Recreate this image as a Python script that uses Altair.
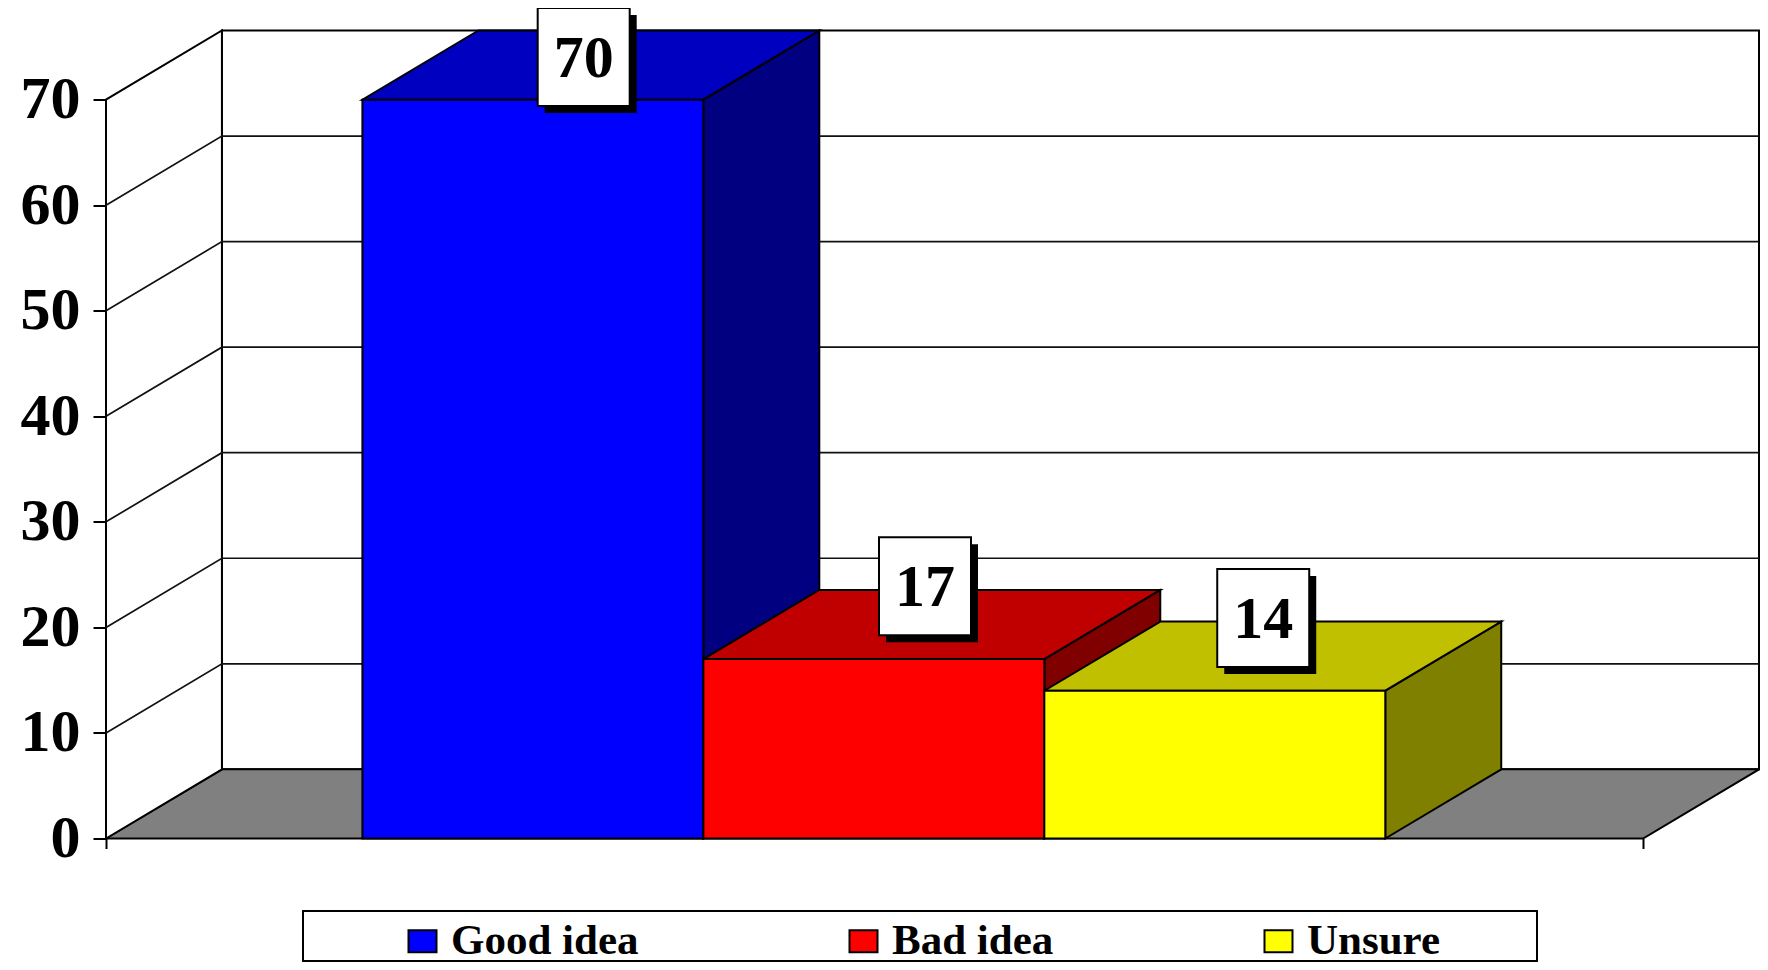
import altair as alt
import pandas as pd

CATEGORIES = ["Good idea", "Bad idea", "Unsure"]
VALUES = [70, 17, 14]
FRONT_COLORS = ["#0000ff", "#ff0000", "#ffff00"]
TOP_COLORS = ["#0000c0", "#c00000", "#c0c000"]
SIDE_COLORS = ["#000080", "#800000", "#808000"]
TICKS = [0, 10, 20, 30, 40, 50, 60, 70]
LABEL_X = [1.401, 2.402, 3.394]
LABEL_Y = [74.05, 23.9, 20.9]

GAP = 0.752
FRONT_END = 4.508
DEPTH_X = 0.34
DEPTH_Y = 6.55
X_MAX = FRONT_END + DEPTH_X
Y_MAX = 70 + DEPTH_Y

SERIF = "Liberation Serif"
LINE = 2

x_scale = alt.Scale(domain=[0, X_MAX], nice=False, zero=False)
y_scale = alt.Scale(domain=[0, Y_MAX], nice=False, zero=False)
x_axis = alt.Axis(title=None, values=[0, FRONT_END], labels=False, domain=False, grid=False,
                  tickSize=10, tickWidth=LINE, tickColor="black")
y_axis = alt.Axis(title=None, values=TICKS, format="d", domain=False, grid=False, tickSize=13,
                  tickWidth=LINE, tickColor="black", labelPadding=13, labelFont=SERIF,
                  labelFontSize=60, labelFontWeight="bold", labelColor="black")


def X(field):
    return alt.X(field, type="quantitative", scale=x_scale, axis=x_axis)


def Y(field):
    return alt.Y(field, type="quantitative", scale=y_scale, axis=y_axis)


def side_face(x_pos, value, color):
    df = pd.DataFrame({"x": [x_pos, x_pos + DEPTH_X], "y": [0, DEPTH_Y], "y2": [value, value + DEPTH_Y]})
    return alt.Chart(df).mark_area(fill=color, stroke="black", strokeWidth=LINE, orient="vertical").encode(
        x=X("x"), y=Y("y"), y2="y2")


def top_face(x0, x1, base, color):
    df = pd.DataFrame({"y": [base, base + DEPTH_Y], "x": [x0, x0 + DEPTH_X], "x2": [x1, x1 + DEPTH_X]})
    return alt.Chart(df).mark_area(fill=color, stroke="black", strokeWidth=LINE, orient="horizontal").encode(
        y=Y("y"), x=X("x"), x2="x2")


# walls and floor
back_df = pd.DataFrame({"x": [DEPTH_X], "x2": [X_MAX], "y": [DEPTH_Y], "y2": [Y_MAX]})
back_wall = alt.Chart(back_df).mark_rect(fill="white", stroke="black", strokeWidth=LINE).encode(
    x=X("x"), x2="x2", y=Y("y"), y2="y2")
left_wall = side_face(0, 70, "white")
floor = top_face(0, FRONT_END, 0, "#808080")

grid_rows = []
for t in TICKS[1:-1]:
    grid_rows += [
        {"x": 0, "y": t, "t": t},
        {"x": DEPTH_X, "y": t + DEPTH_Y, "t": t},
        {"x": X_MAX, "y": t + DEPTH_Y, "t": t},
    ]
grid = alt.Chart(pd.DataFrame(grid_rows)).mark_line(color="#111111", strokeWidth=1.7).encode(
    x=X("x"), y=Y("y"), detail="t:N")

# bars
layers = [back_wall, floor, left_wall, grid]
front_rows = []
for i, (cat, val) in enumerate(zip(CATEGORIES, VALUES)):
    x0 = GAP + i
    x1 = x0 + 1
    layers.append(side_face(x1, val, SIDE_COLORS[i]))
    layers.append(top_face(x0, x1, val, TOP_COLORS[i]))
    front_rows.append({"series": cat, "x": x0, "x2": x1, "y": 0, "y2": val})

fronts = alt.Chart(pd.DataFrame(front_rows)).mark_rect(stroke="black", strokeWidth=LINE).encode(
    x=X("x"), x2="x2", y=Y("y"), y2="y2",
    fill=alt.Fill("series:N",
                  scale=alt.Scale(domain=CATEGORIES, range=FRONT_COLORS),
                  sort=CATEGORIES,
                  legend=alt.Legend(title=None, orient="none", legendX=295, legendY=889,
                                    direction="horizontal", columns=3, padding=0,
                                    symbolType="M-1,-0.78H1V0.78H-1Z", symbolSize=784,
                                    symbolStrokeColor="black", symbolStrokeWidth=LINE,
                                    symbolOpacity=1, labelFont=SERIF, labelFontSize=43,
                                    labelFontWeight="bold", labelColor="black", labelLimit=500,
                                    labelOffset=7, columnPadding=203, zindex=1)))
layers.append(fronts)

# data labels
label_df = pd.DataFrame({"x": LABEL_X, "y": LABEL_Y, "text": [str(v) for v in VALUES]})
shadow = alt.Chart(label_df).mark_rect(width=92, height=98, fill="black", xOffset=7, yOffset=7).encode(
    x=X("x"), y=Y("y"))
box = alt.Chart(label_df).mark_rect(width=92, height=98, fill="white", stroke="black", strokeWidth=LINE).encode(
    x=X("x"), y=Y("y"))
text = alt.Chart(label_df).mark_text(font=SERIF, fontSize=60, fontWeight="bold", color="black",
                                     baseline="middle", align="center", dy=2).encode(
    x=X("x"), y=Y("y"), text="text:N")
layers += [shadow, box, text]

# legend frame
legend_frame = alt.Chart(pd.DataFrame({"a": [0]})).mark_rect(filled=False, stroke="black", strokeWidth=LINE).encode(
    x=alt.value(197), x2=alt.value(1431), y=alt.value(880.5), y2=alt.value(930.5))
layers.append(legend_frame)

chart = alt.layer(*layers).properties(
    width=1653, height=808,
    autosize=alt.AutoSizeParams(type="none"),
    padding={"left": 98, "top": 22.5, "right": 1, "bottom": 123.5},
    background="white",
).configure_view(stroke=None)

chart.save("out.html", embed_options={"renderer": "svg", "actions": False})
